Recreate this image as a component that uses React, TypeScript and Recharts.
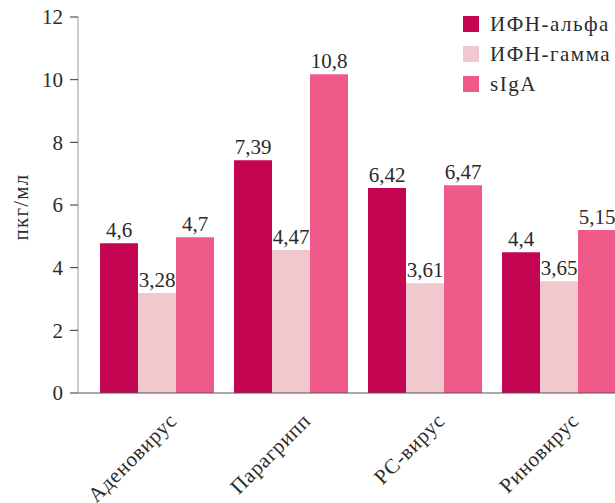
import { BarChart, Bar, XAxis, YAxis, LabelList } from 'recharts'

const categories = ['Аденовирус', 'Парагрипп', 'РС-вирус', 'Риновирус']
const seriesNames = ['ИФН-альфа', 'ИФН-гамма', 'sIgA']
const colors = ['#C40552', '#F0C8CD', '#F05A88']

// bar heights as drawn in the picture
const alphaValues = [4.78, 7.43, 6.54, 4.49]
const gammaValues = [3.19, 4.56, 3.5, 3.57]
const sigaValues = [4.97, 10.17, 6.63, 5.2]

// value labels as printed above bars
const alphaLabels = ['4,6', '7,39', '6,42', '4,4']
const gammaLabels = ['3,28', '4,47', '3,61', '3,65']
const sigaLabels = ['4,7', '10,8', '6,47', '5,15']

const yTicks = [0, 2, 4, 6, 8, 10, 12]

const data = categories.map((name, i) => ({
  name,
  alpha: alphaValues[i],
  gamma: gammaValues[i],
  siga: sigaValues[i],
  alphaLabel: alphaLabels[i],
  gammaLabel: gammaLabels[i],
  sigaLabel: sigaLabels[i],
}))

const FONT = '"Liberation Serif", "DejaVu Serif", serif'
const TEXT = '#2b2b2b'

function XTick({ x, y, payload }: any) {
  return (
    <g transform={`translate(${x + 21},${y + 21})`}>
      <text
        transform="rotate(-45)"
        textAnchor="end"
        fill={TEXT}
        fontFamily={FONT}
        fontSize={21}
        letterSpacing={0.7}
      >
        {payload.value}
      </text>
    </g>
  )
}

function LegendBox() {
  return (
    <div style={{ position: 'absolute', top: 9, left: 463, fontFamily: FONT, fontSize: 21, color: TEXT, letterSpacing: 1.5 }}>
      {seriesNames.map((n, i) => (
        <div key={n} style={{ display: 'flex', alignItems: 'center', height: 30 }}>
          <div style={{ width: 16, height: 16, background: colors[i], marginRight: 11 }} />
          <span>{n}</span>
        </div>
      ))}
    </div>
  )
}

export default function App() {
  return (
    <div style={{ position: 'absolute', left: 0, top: 0, width: 615, height: 503, overflow: 'hidden', background: '#fff' }}>
      <BarChart
        width={626}
        height={503}
        data={data}
        margin={{ top: 17, right: 0, bottom: 0, left: 0 }}
        barGap={0}
        barSize={38}
      >
        <XAxis
          dataKey="name"
          height={110}
          interval={0}
          padding={{ left: 12, right: 0 }}
          tickLine={false}
          axisLine={{ stroke: '#555', strokeWidth: 1.2 }}
          tick={<XTick />}
        />
        <YAxis
          width={78}
          domain={[0, 12]}
          ticks={yTicks}
          tickSize={8}
          tickMargin={7}
          axisLine={{ stroke: '#999' }}
          tickLine={{ stroke: '#333' }}
          tick={{ fill: TEXT, fontFamily: FONT, fontSize: 21 }}
          label={{
            content: () => (
              <text
                x={21}
                y={207}
                transform="rotate(-90 21 207)"
                textAnchor="middle"
                dominantBaseline="central"
                fill={TEXT}
                fontFamily={FONT}
                fontSize={21}
                letterSpacing={1.2}
              >
                пкг/мл
              </text>
            ),
          }}
        />
        <Bar dataKey="alpha" name={seriesNames[0]} fill={colors[0]} isAnimationActive={false}>
          <LabelList dataKey="alphaLabel" position="top" offset={6} fill={TEXT} fontFamily={FONT} fontSize={21} />
        </Bar>
        <Bar dataKey="gamma" name={seriesNames[1]} fill={colors[1]} isAnimationActive={false}>
          <LabelList dataKey="gammaLabel" position="top" offset={6} fill={TEXT} fontFamily={FONT} fontSize={21} />
        </Bar>
        <Bar dataKey="siga" name={seriesNames[2]} fill={colors[2]} isAnimationActive={false}>
          <LabelList dataKey="sigaLabel" position="top" offset={6} fill={TEXT} fontFamily={FONT} fontSize={21} />
        </Bar>
      </BarChart>
      <LegendBox />
    </div>
  )
}
